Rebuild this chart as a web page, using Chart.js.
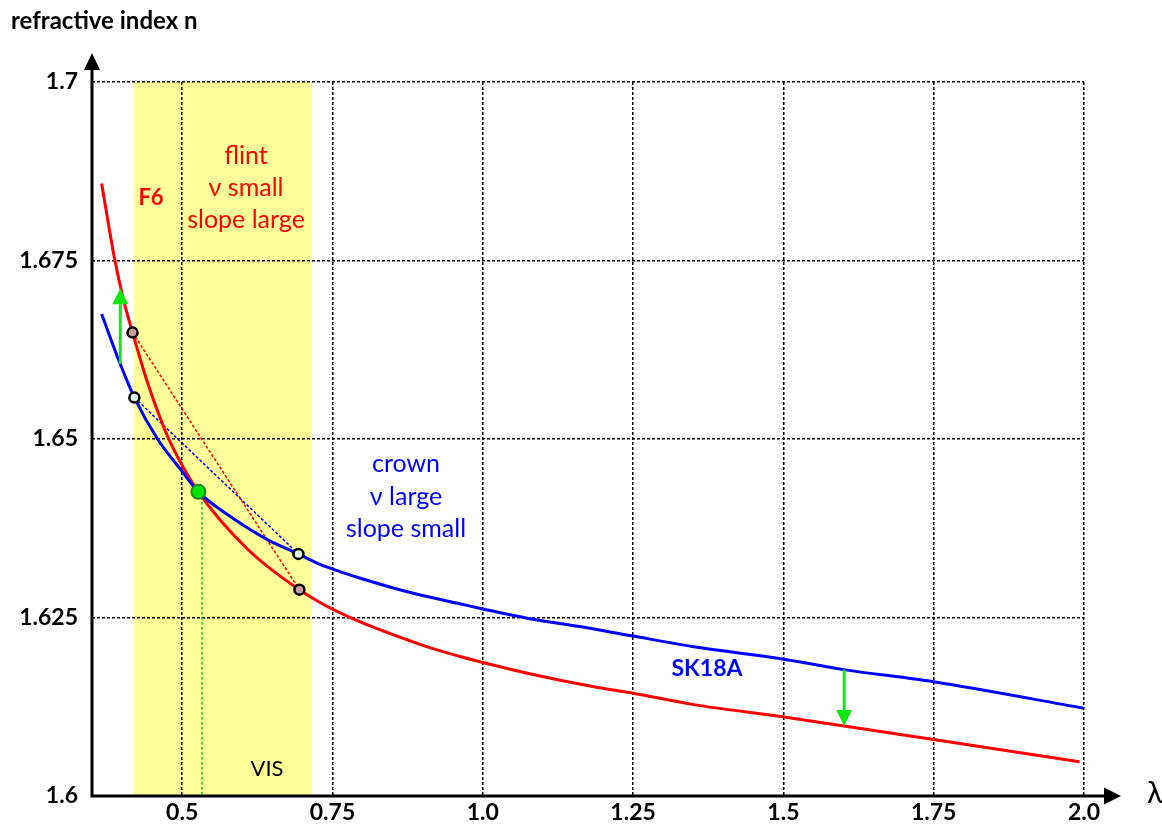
<!DOCTYPE html>
<html>
<head>
<meta charset="utf-8">
<script src="https://cdn.jsdelivr.net/npm/chart.js@4.4.1/dist/chart.umd.min.js"></script>
<style>
  html, body { margin: 0; padding: 0; background: #ffffff; }
  #wrap { width: 1162px; height: 828px; }
</style>
</head>
<body>
<div id="wrap"><canvas id="c" width="1162" height="828"></canvas></div>
<script>
// Dispersion curves n(λ), λ in µm
const lambdaF6 = [0.366, 0.387, 0.403, 0.4175, 0.442, 0.464, 0.481, 0.527, 0.6085, 0.695, 0.7636, 0.8966, 0.9635, 1.0, 1.074, 1.1847, 1.25, 1.351, 1.4983, 1.601, 1.75, 1.9925];
const nF6      = [1.6858, 1.6755, 1.6693, 1.6649, 1.6580, 1.6528, 1.6494, 1.6426, 1.6346, 1.6289, 1.6256, 1.6212, 1.6195, 1.6187, 1.6172, 1.6153, 1.6144, 1.6128, 1.6111, 1.6098, 1.6079, 1.6048];

const lambdaSK18A = [0.366, 0.397, 0.4205, 0.459, 0.4977, 0.527, 0.5808, 0.6418, 0.6933, 0.7304, 0.7636, 0.7965, 0.8745, 0.963, 1.0, 1.074, 1.1847, 1.25, 1.351, 1.4983, 1.601, 1.75, 1.9992];
const nSK18A      = [1.6675, 1.6605, 1.6558, 1.6500, 1.6457, 1.6426, 1.6391, 1.6359, 1.6339, 1.6324, 1.6314, 1.6305, 1.6286, 1.6269, 1.6262, 1.6249, 1.6234, 1.6224, 1.6209, 1.6192, 1.6177, 1.6160, 1.6123];

// Points joined by the secant lines across the visible range
const secantLambdaF6 = [0.4175, 0.695];
const secantNF6      = [1.6649, 1.6289];
const secantLambdaSK = [0.4205, 0.6933];
const secantNSK      = [1.6558, 1.6339];

// Point where both glasses have the same index
const crossLambda = [0.527];
const crossN      = [1.6426];
const crossDropLambda = [0.533, 0.533];
const crossDropN      = [1.6426, 1.6];

// Green arrows: [λ, n from, n to]
const arrowBlueToRed = [0.397, 1.6605, 1.6711];
const arrowBlueDown  = [1.601, 1.6177, 1.6098];

// Visible band
const visRange = [0.42, 0.715];

// Axes
const xTicks = [0.5, 0.75, 1.0, 1.25, 1.5, 1.75, 2.0];
const xTickLabels = ['0.5', '0.75', '1.0', '1.25', '1.5', '1.75', '2.0'];
const yTicks = [1.6, 1.625, 1.65, 1.675, 1.7];
const yTickLabels = ['1.6', '1.625', '1.65', '1.675', '1.7'];
const xRange = [0.35, 2.0];
const yRange = [1.6, 1.7];

const pts = (xs, ys) => xs.map((x, i) => ({ x: x, y: ys[i] }));

const FONT = 'Lato, "Open Sans", "DejaVu Sans", sans-serif';
const GREEN = '#14E614';

const visBand = {
  id: 'visBand',
  beforeDraw(chart) {
    const { ctx, chartArea, scales } = chart;
    const x0 = scales.x.getPixelForValue(visRange[0]);
    const x1 = scales.x.getPixelForValue(visRange[1]);
    ctx.save();
    ctx.fillStyle = '#FFFF99';
    ctx.fillRect(x0, chartArea.top, x1 - x0, chartArea.bottom - chartArea.top);
    ctx.restore();
  }
};

function arrow(ctx, x, y0, y1, color) {
  const dir = Math.sign(y1 - y0);
  const head = 16, half = 8;
  ctx.save();
  ctx.strokeStyle = color;
  ctx.fillStyle = color;
  ctx.lineWidth = 3;
  ctx.beginPath();
  ctx.moveTo(x, y0);
  ctx.lineTo(x, y1 - dir * head);
  ctx.stroke();
  ctx.beginPath();
  ctx.moveTo(x, y1);
  ctx.lineTo(x - half, y1 - dir * head);
  ctx.lineTo(x + half, y1 - dir * head);
  ctx.closePath();
  ctx.fill();
  ctx.restore();
}

const overlay = {
  id: 'overlay',
  afterDatasetsDraw(chart) {
    const { ctx, chartArea, scales } = chart;
    const sx = scales.x, sy = scales.y;

    // green arrows
    arrow(ctx, sx.getPixelForValue(arrowBlueToRed[0]), sy.getPixelForValue(arrowBlueToRed[1]), sy.getPixelForValue(arrowBlueToRed[2]), GREEN);
    arrow(ctx, sx.getPixelForValue(arrowBlueDown[0]), sy.getPixelForValue(arrowBlueDown[1]), sy.getPixelForValue(arrowBlueDown[2]), GREEN);

    // axes with arrow heads
    const L = chartArea.left, B = chartArea.bottom;
    const xTip = chartArea.right + 37, yTip = chartArea.top - 29;
    ctx.save();
    ctx.strokeStyle = '#000';
    ctx.fillStyle = '#000';
    ctx.lineWidth = 3;
    ctx.lineCap = 'butt';
    ctx.beginPath();
    ctx.moveTo(L, B + 1.5);
    ctx.lineTo(L, yTip + 14);
    ctx.moveTo(L - 1.5, B);
    ctx.lineTo(xTip - 14, B);
    ctx.stroke();
    ctx.beginPath();
    ctx.moveTo(L, yTip);
    ctx.lineTo(L - 8, yTip + 17);
    ctx.lineTo(L + 8, yTip + 17);
    ctx.closePath();
    ctx.fill();
    ctx.beginPath();
    ctx.moveTo(xTip, B);
    ctx.lineTo(xTip - 17, B - 8.5);
    ctx.lineTo(xTip - 17, B + 8.5);
    ctx.closePath();
    ctx.fill();

    // labels
    ctx.textAlign = 'center';
    ctx.textBaseline = 'middle';
    ctx.fillStyle = '#FF0000';
    ctx.font = 'bold 22px ' + FONT;
    ctx.fillText('F6', 151, 198);
    ctx.font = '25px ' + FONT;
    ctx.fillText('flint', 246, 156);
    ctx.fillText('\u03BD small', 246, 188);
    ctx.fillText('slope large', 246, 220);

    ctx.fillStyle = '#0000FF';
    ctx.fillText('crown', 406, 464);
    ctx.fillText('\u03BD large', 406, 497);
    ctx.fillText('slope small', 406, 529);
    ctx.font = 'bold 23px ' + FONT;
    ctx.fillText('SK18A', 707, 669);

    ctx.fillStyle = '#000';
    ctx.font = '22px ' + FONT;
    ctx.fillText('VIS', 267, 769);
    ctx.font = '30px ' + FONT;
    ctx.fillText('\u03BB', 1155, 793);

    ctx.textAlign = 'left';
    ctx.font = 'bold 24px ' + FONT;
    ctx.fillText('refractive index n', 11, 21);
    ctx.restore();
  }
};

new Chart(document.getElementById('c'), {
  type: 'line',
  data: {
    datasets: [
      { data: pts(crossLambda, crossN), showLine: false, pointRadius: 7, pointBackgroundColor: '#00E600', pointBorderColor: '#1C8C1C', pointBorderWidth: 2, order: 0 },
      { data: pts(secantLambdaF6, secantNF6), showLine: false, pointRadius: 5, pointBackgroundColor: '#C9A19C', pointBorderColor: '#000', pointBorderWidth: 2.5, order: 1 },
      { data: pts(secantLambdaSK, secantNSK), showLine: false, pointRadius: 5, pointBackgroundColor: '#E0F5DF', pointBorderColor: '#000', pointBorderWidth: 2.5, order: 1 },
      { data: pts(lambdaF6, nF6), borderColor: '#FF0000', borderWidth: 3, pointRadius: 0, cubicInterpolationMode: 'monotone', order: 3 },
      { data: pts(lambdaSK18A, nSK18A), borderColor: '#0000FF', borderWidth: 3, pointRadius: 0, cubicInterpolationMode: 'monotone', order: 2 },
      { data: pts(secantLambdaF6, secantNF6), borderColor: '#FF0000', borderWidth: 1.5, borderDash: [3, 2], pointRadius: 0, order: 4 },
      { data: pts(secantLambdaSK, secantNSK), borderColor: '#0000FF', borderWidth: 1.5, borderDash: [3, 2], pointRadius: 0, order: 4 },
      { data: pts(crossDropLambda, crossDropN), borderColor: '#22CC22', borderWidth: 1.5, borderDash: [3, 2], pointRadius: 0, order: 4 }
    ]
  },
  options: {
    responsive: false,
    animation: false,
    events: [],
    layout: { padding: { top: 82, right: 78, left: 0, bottom: 0 } },
    plugins: { legend: { display: false }, tooltip: { enabled: false }, title: { display: false } },
    scales: {
      x: {
        type: 'linear',
        min: xRange[0],
        max: xRange[1],
        afterBuildTicks: (s) => { s.ticks = xTicks.map(v => ({ value: v })); },
        afterFit: (s) => { s.height = 32; },
        ticks: {
          padding: 3,
          color: '#000',
          font: { family: FONT, size: 23, weight: 'bold' },
          maxRotation: 0,
          autoSkip: false,
          callback: (v) => xTickLabels[xTicks.findIndex(t => Math.abs(t - v) < 1e-9)]
        },
        grid: { color: '#000', lineWidth: 1.5, drawTicks: false },
        border: { display: false, dash: [3, 2] }
      },
      y: {
        type: 'linear',
        min: yRange[0],
        max: yRange[1],
        afterBuildTicks: (s) => { s.ticks = yTicks.map(v => ({ value: v })); },
        afterFit: (s) => { s.width = 92; },
        ticks: {
          padding: 14,
          color: '#000',
          font: { family: FONT, size: 23, weight: 'bold' },
          autoSkip: false,
          callback: (v) => yTickLabels[yTicks.findIndex(t => Math.abs(t - v) < 1e-9)]
        },
        grid: { color: '#000', lineWidth: 1.5, drawTicks: false },
        border: { display: false, dash: [3, 2] }
      }
    }
  },
  plugins: [visBand, overlay]
});
</script>
</body>
</html>
